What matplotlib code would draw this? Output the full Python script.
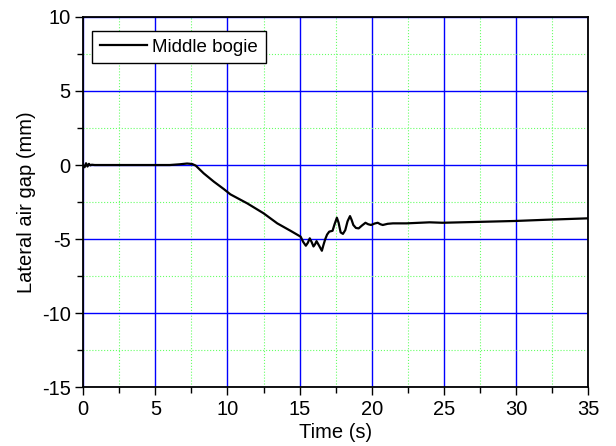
import matplotlib.pyplot as plt
import numpy as np
from matplotlib.ticker import MultipleLocator

plt.rcParams['font.family'] = ['Liberation Sans', 'DejaVu Sans']
plt.rcParams['axes.unicode_minus'] = False

# values
time_s = [0.0, 0.1, 0.2, 0.3, 0.4, 0.5, 0.6, 0.8, 1.0, 2.0, 4.0, 6.0, 6.7, 7.2, 7.55, 7.8,
          8.35, 9.05, 9.74, 10.2, 11.37, 12.5, 13.45, 14.4, 15.07, 15.25, 15.43, 15.57,
          15.7, 15.83, 15.96, 16.07, 16.17, 16.35, 16.54, 16.65, 16.77, 16.9, 17.05,
          17.28, 17.42, 17.58, 17.7, 17.84, 18.0, 18.16, 18.32, 18.49, 18.6, 18.72,
          18.9, 19.09, 19.3, 19.56, 19.75, 19.95, 20.2, 20.41, 20.6, 20.76, 21.1, 21.46,
          22.4, 24.0, 24.9, 27.0, 29.9, 32.0, 35.0]
gap_mm = [0.0, -0.15, 0.12, -0.1, 0.08, -0.02, 0.02, 0.0, 0.0, 0.0, 0.0, 0.0, 0.05, 0.1, 0.07, -0.04,
          -0.56, -1.12, -1.62, -1.98, -2.59, -3.26, -3.94, -4.46, -4.84, -5.2, -5.45, -5.25,
          -4.95, -5.2, -5.5, -5.35, -5.14, -5.45, -5.79, -5.4, -5.02, -4.7, -4.5,
          -4.44, -4.0, -3.56, -3.9, -4.55, -4.65, -4.4, -3.8, -3.45, -3.7, -4.05,
          -4.25, -4.28, -4.1, -3.9, -4.0, -4.05, -3.95, -3.9, -4.0, -4.05, -3.97, -3.94,
          -3.94, -3.87, -3.9, -3.85, -3.78, -3.7, -3.6]

fig = plt.figure(figsize=(6.16, 4.46), dpi=100)
ax = fig.add_axes([0.135, 0.132, 0.82, 0.83])

ax.plot(time_s, gap_mm, color='black', linewidth=1.6, label='Middle bogie')

ax.set_xlim(0, 35)
ax.set_ylim(-15, 10)
ax.xaxis.set_major_locator(MultipleLocator(5))
ax.xaxis.set_minor_locator(MultipleLocator(2.5))
ax.yaxis.set_major_locator(MultipleLocator(5))
ax.yaxis.set_minor_locator(MultipleLocator(2.5))

ax.grid(which='major', color='#0000ff', linewidth=1.0, linestyle='-')
ax.grid(which='minor', color='#66ff66', linewidth=0.8, linestyle=':')
ax.set_axisbelow(True)

ax.tick_params(which='both', direction='out', top=False, right=False, labelsize=14.5)
ax.tick_params(which='major', length=6, width=1, pad=3)
ax.tick_params(which='minor', length=4, width=1)
for sp in ax.spines.values():
    sp.set_linewidth(1.3)

ax.set_xlabel('Time (s)', fontsize=14.5, labelpad=3)
ax.set_ylabel('Lateral air gap (mm)', fontsize=14.5, labelpad=4)

leg = ax.legend(loc='upper left', bbox_to_anchor=(0.018, 0.962), borderaxespad=0,
                fancybox=False, framealpha=1, edgecolor='black', fontsize=13.5,
                handlelength=2.5, handletextpad=0.3, borderpad=0.4)
leg.get_frame().set_linewidth(1.0)

fig.savefig('out.png', dpi=100)
